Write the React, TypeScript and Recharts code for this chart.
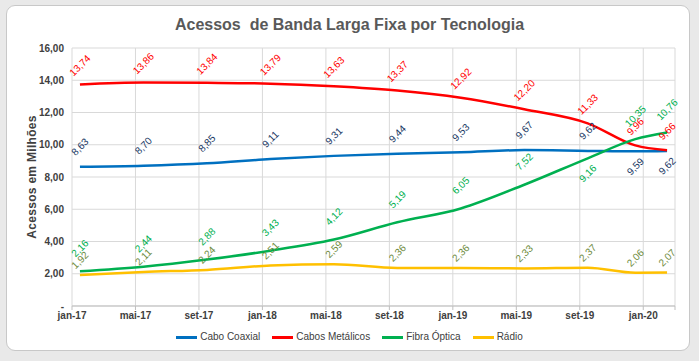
import React from 'react'
import { LineChart, Line, XAxis, YAxis, CartesianGrid, Legend } from 'recharts'

// períodos medidos (ano-mês)
const periodos = ['2017-01', '2017-05', '2017-09', '2018-01', '2018-05', '2018-09', '2019-01', '2019-05', '2019-09', '2019-12', '2020-02']

const caboCoaxial = [8.63, 8.7, 8.85, 9.11, 9.31, 9.44, 9.53, 9.67, 9.62, 9.59, 9.62]
const cabosMetalicos = [13.74, 13.86, 13.84, 13.79, 13.63, 13.37, 12.92, 12.2, 11.33, 9.96, 9.66]
const fibraOptica = [2.16, 2.44, 2.88, 3.43, 4.12, 5.19, 6.05, 7.52, 9.16, 10.35, 10.76]
const radio = [1.92, 2.11, 2.24, 2.51, 2.59, 2.36, 2.36, 2.33, 2.37, 2.06, 2.07]

const xTickLabels = ['jan-17', 'mai-17', 'set-17', 'jan-18', 'mai-18', 'set-18', 'jan-19', 'mai-19', 'set-19', 'jan-20']
const yTicks = [0, 2, 4, 6, 8, 10, 12, 14, 16]

const FONT = '"Liberation Sans", Arial, sans-serif'

// meses desde jan-17, ponto no meio do mês (eixo de datas do Excel)
const toMonth = (p: string) => {
  const [y, m] = p.split('-').map(Number)
  return (y - 2017) * 12 + (m - 1) + 0.5
}

const data = periodos.map((p, i) => ({
  m: toMonth(p),
  coaxial: caboCoaxial[i],
  metalicos: cabosMetalicos[i],
  fibra: fibraOptica[i],
  radio: radio[i],
}))

const xTicks = [...xTickLabels.map((_, i) => i * 4), 38]

const fmt = (v: number) => v.toFixed(2).replace('.', ',')

const series = [
  { key: 'coaxial', name: 'Cabo Coaxial', color: '#0070C0', labelColor: '#203864', below: [9, 10], dy: 20 },
  { key: 'metalicos', name: 'Cabos Metálicos', color: '#FF0000', labelColor: '#FF0000', below: [] as number[], dy: 19 },
  { key: 'fibra', name: 'Fibra Óptica', color: '#00B050', labelColor: '#00B050', below: [8], dy: 23 },
  { key: 'radio', name: 'Rádio', color: '#FFC000', labelColor: '#6E8B3D', below: [] as number[], dy: 15 },
]

const makeLabel = (color: string, below: number[], dy: number) => (props: any) => {
  const { x, y, value, index } = props
  if (x == null || y == null) return null
  const ly = below.includes(index) ? y + 15 : y - dy
  return (
    <g transform={`translate(${x} ${ly}) rotate(-45)`}>
      <text
        x={0}
        y={0}
        fill={color}
        fontSize={10}
        fontFamily={FONT}
        textAnchor="middle"
        dominantBaseline="central"
      >
        {fmt(value)}
      </text>
    </g>
  )
}

const LegendContent = () => (
  <div style={{ display: 'flex', justifyContent: 'center', fontFamily: FONT, fontSize: 10, color: '#404040', lineHeight: '12px' }}>
    {series.map((s) => (
      <div key={s.key} style={{ display: 'flex', alignItems: 'center', margin: '0 6px' }}>
        <span style={{ display: 'inline-block', width: 21, height: 3, background: s.color, marginRight: 3 }} />
        <span>{s.name}</span>
      </div>
    ))}
  </div>
)

export default function App() {
  return (
    <div style={{ position: 'fixed', left: 0, top: 0, width: 699, height: 361, background: '#e9e9e9', overflow: 'hidden' }}>
      <div
        style={{
          position: 'absolute',
          left: 6,
          top: 5,
          width: 682,
          height: 344,
          background: '#fff',
          border: '1px solid #c8c8c8',
          borderRadius: 9,
        }}
      />
      <div
        style={{
          position: 'absolute',
          left: 0,
          top: 16,
          width: 699,
          textAlign: 'center',
          fontFamily: FONT,
          fontSize: 16,
          fontWeight: 700,
          color: '#595959',
        }}
      >
        Acessos &nbsp;de Banda Larga Fixa por Tecnologia
      </div>
      <div style={{ position: 'absolute', left: 0, top: 0 }}>
        <LineChart width={699} height={361} data={data} margin={{ top: 48, right: 24, bottom: 13, left: 0 }}>
          <CartesianGrid stroke="#d9d9d9" strokeWidth={1} />
          <XAxis
            dataKey="m"
            type="number"
            domain={[0, 38]}
            ticks={xTicks}
            tickFormatter={(v: number) => xTickLabels[v / 4] ?? ''}
            interval={0}
            stroke="#bfbfbf"
            tickSize={4}
            tick={{ fill: '#404040', fontSize: 10, fontWeight: 700, fontFamily: FONT }}
          />
          <YAxis
            domain={[0, 16]}
            ticks={yTicks}
            width={72}
            axisLine={false}
            tickLine={false}
            tickFormatter={(v: number) => (v === 0 ? '-' : fmt(v))}
            tick={{ fill: '#404040', fontSize: 10, fontWeight: 700, fontFamily: FONT }}
            label={{
              value: 'Acessos em Milhões',
              angle: -90,
              position: 'insideLeft',
              offset: 32,
              style: { textAnchor: 'middle', fill: '#404040', fontSize: 12, fontWeight: 700, fontFamily: FONT, letterSpacing: 0.3 },
            }}
          />
          {series.map((s) => (
            <Line
              key={s.key}
              dataKey={s.key}
              name={s.name}
              type="monotone"
              stroke={s.color}
              strokeWidth={2.5}
              dot={false}
              isAnimationActive={false}
              label={makeLabel(s.labelColor, s.below, s.dy)}
            />
          ))}
          <Legend content={<LegendContent />} wrapperStyle={{ top: 331, left: 0, width: 699 }} />
        </LineChart>
      </div>
    </div>
  )
}
